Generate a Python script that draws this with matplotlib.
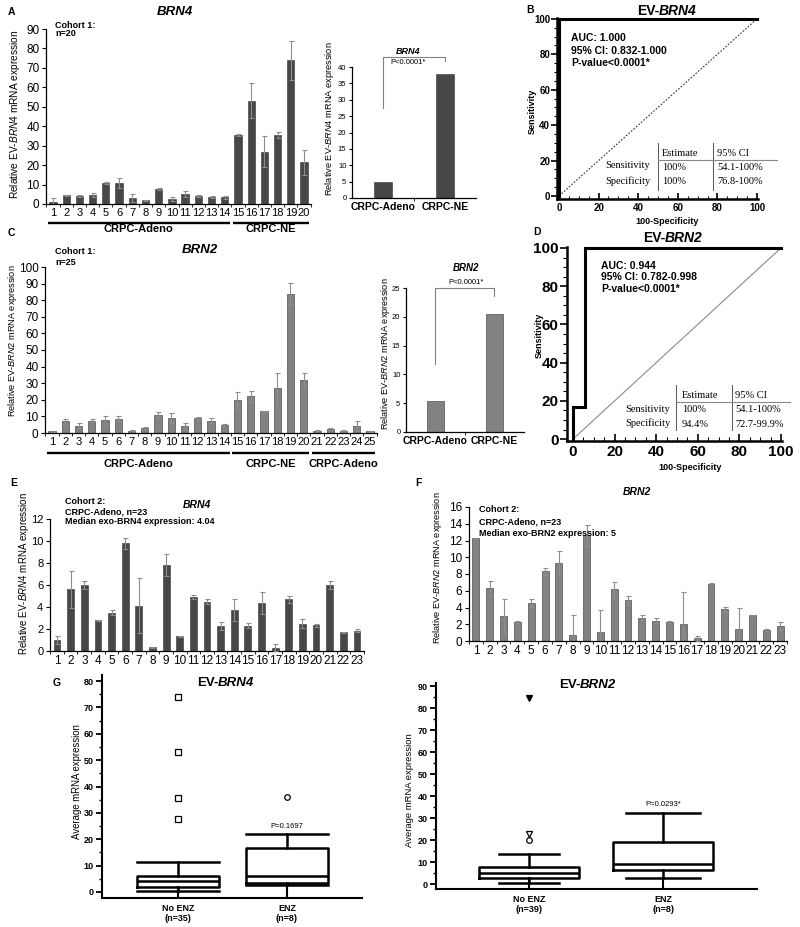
import matplotlib

matplotlib.use("Agg")

import matplotlib.pyplot as plt
import numpy as np
from matplotlib.lines import Line2D
from matplotlib.ticker import MultipleLocator

plt.rcParams["font.family"] = ["Liberation Sans", "DejaVu Sans"]
plt.rcParams["mathtext.fontset"] = "custom"
plt.rcParams["mathtext.rm"] = "Liberation Sans"
plt.rcParams["mathtext.it"] = "Liberation Sans:italic"
plt.rcParams["mathtext.bf"] = "Liberation Sans:bold"
plt.rcParams["axes.linewidth"] = 0.9

W, H = 800, 927
DARK = "#474747"
GREY = "#828282"
ERR = "#8e8e8e"
SERIF = "Liberation Serif"

# -- data -------------------------------------------------------------------
# A: cohort 1, EV-BRN4 per patient (mean, error)
A_VALUES = [1, 4.5, 4, 4.5, 11, 10.8, 3, 2, 7.5, 2.5, 5, 4, 3.5, 3.5,
            35.5, 53, 27, 35.5, 74, 21.5]
A_ERRORS = [2, 0.2, 0.6, 1, 0.5, 2.5, 2, 0.2, 0.5, 1, 1.5, 0.5, 0.5, 0.7,
            0.3, 9, 8, 1.5, 10, 6.5]
A_GROUPS = [("CRPC-Adeno", 1, 14), ("CRPC-NE", 15, 20)]
SUBTYPES = ["CRPC-Adeno", "CRPC-NE"]
A_MEANS = [5.0, 38.0]

# C: cohort 1, EV-BRN2 per patient
C_VALUES = [1, 7, 4.5, 7.5, 8, 8.5, 1.5, 3, 11, 9, 4, 9, 7.5, 5,
            20, 22, 13, 27, 84, 32, 1.5, 2.5, 1.5, 4, 1]
C_ERRORS = [0.5, 1.5, 1.5, 1, 2.5, 1.5, 0.5, 0.5, 1.5, 3, 2, 0.5, 1.5, 0.5,
            5, 3.5, 0.5, 9, 6.5, 4, 0.5, 0.5, 0.5, 3, 0.5]
C_GROUPS = [("CRPC-Adeno", 1, 14), ("CRPC-NE", 15, 20), ("CRPC-Adeno", 21, 25)]
C_MEANS = [5.4, 20.5]

# E / F: cohort 2, CRPC-Adeno
E_VALUES = [1.0, 5.6, 6.0, 2.8, 3.5, 9.8, 4.1, 0.35, 7.8, 1.35, 4.9, 4.5,
            2.3, 3.7, 2.3, 4.4, 0.3, 4.7, 2.5, 2.35, 6.0, 1.7, 1.85]
E_ERRORS = [0.4, 1.7, 0.4, 0.05, 0.2, 0.5, 2.5, 0.05, 1.0, 0.05, 0.2, 0.2,
            0.35, 1.0, 0.25, 1.0, 0.3, 0.3, 0.4, 0.15, 0.35, 0.05, 0.15]
F_VALUES = [12.3, 6.35, 2.95, 2.25, 4.55, 8.3, 9.3, 0.7, 12.6, 1.05, 6.2, 4.85,
            2.8, 2.4, 2.25, 2.0, 0.3, 6.8, 3.8, 1.4, 3.05, 1.3, 1.8]
F_ERRORS = [0.05, 0.85, 2.05, 0.15, 0.45, 0.45, 1.4, 2.4, 1.2, 2.6, 0.85, 0.55,
            0.35, 0.3, 0.1, 3.8, 0.25, 0.1, 0.3, 2.55, 0.05, 0.1, 0.5]

# ROC curves: x = 100-specificity, y = sensitivity
B_ROC_X = [0, 0, 100]
B_ROC_Y = [0, 100, 100]
D_ROC_X = [0, 0, 5.6, 5.6, 100]
D_ROC_Y = [0, 16.7, 16.7, 100, 100]
B_STATS = ["AUC: 1.000", "95% CI: 0.832-1.000", "P-value<0.0001*"]
D_STATS = ["AUC: 0.944", "95% CI: 0.782-0.998", "P-value<0.0001*"]
B_TABLE = [("Sensitivity", "100%", "54.1-100%"), ("Specificity", "100%", "76.8-100%")]
D_TABLE = [("Sensitivity", "100%", "54.1-100%"), ("Specificity", "94.4%", "72.7-99.9%")]

# G: box plots, No ENZ vs ENZ
G_LABELS = ["No ENZ\n(n=35)", "ENZ\n(n=8)"]
H_LABELS = ["No ENZ\n(n=39)", "ENZ\n(n=8)"]
G_BOXES = [dict(whislo=0.2, q1=2.0, med=4.3, q3=6.0, whishi=11.3),
           dict(whislo=2.6, q1=3.5, med=6.0, q3=16.5, whishi=22.0)]
H_BOXES = [dict(whislo=0.5, q1=2.6, med=5.0, q3=7.6, whishi=13.8),
           dict(whislo=2.6, q1=6.2, med=9.2, q3=19.1, whishi=32.1)]
# (group, value, marker, filled)
G_OUTLIERS = [(1, 27.5, "s", False), (1, 35.8, "s", False), (1, 53.0, "s", False),
              (1, 74.0, "s", False), (2, 36.0, "o", False)]
H_OUTLIERS = [(1, 84.5, "v", True), (1, 22.6, "v", False), (1, 20.0, "o", False)]

fig = plt.figure(figsize=(W / 100, H / 100), dpi=100, facecolor="white")


def px_axes(left, top, right, bottom):
    return fig.add_axes([left / W, 1 - bottom / H, (right - left) / W, (bottom - top) / H])


def ftext(x, y, s, **kw):
    kw.setdefault("va", "center")
    return fig.text(x / W, 1 - y / H, s, **kw)


def fline(xs, ys, **kw):
    kw.setdefault("color", "black")
    fig.add_artist(Line2D([x / W for x in xs], [1 - y / H for y in ys],
                          transform=fig.transFigure, **kw))


def ev_title(x, y, gene, size):
    ftext(x, y, "EV-", ha="right", fontsize=size, fontweight="bold")
    ftext(x, y, gene, ha="left", fontsize=size, fontweight="bold", style="italic")


def ylabel(x, y, gene, size):
    ftext(x, y, r"Relative EV-$\it{" + gene + r"}$ mRNA expression", ha="center",
          rotation=90, fontsize=size)


def bar_panel(ax, values, errors, color, ymax, ystep, width, xsize, ysize):
    pos = np.arange(1, len(values) + 1)
    ax.bar(pos, values, width=width, color=color, edgecolor="#333333", linewidth=0.4, zorder=2)
    ax.errorbar(pos, values, yerr=errors, fmt="none", ecolor=ERR, elinewidth=0.8,
                capsize=1.8, capthick=0.8, zorder=3)
    ax.set_xlim(0.5, len(values) + 0.5)
    ax.set_ylim(0, ymax)
    ax.set_yticks(np.arange(0, ymax + 0.01, ystep))
    ax.set_xticks(pos)
    ax.set_xticks(np.arange(0.5, len(values) + 1), minor=True)
    ax.tick_params(axis="x", which="major", length=0, pad=3, labelsize=xsize)
    ax.tick_params(axis="x", which="minor", length=2.5)
    ax.tick_params(axis="y", length=3, labelsize=ysize, pad=2)
    for s in ("top", "right"):
        ax.spines[s].set_visible(False)


def group_lines(ax, box, groups, line_px, text_px):
    tr = ax.get_xaxis_transform()
    frac = lambda y: (box[3] - y) / (box[3] - box[1])
    for name, first, last in groups:
        ax.plot([first - 0.4, last + 0.4], [frac(line_px)] * 2, transform=tr, color="black",
                lw=1.7, clip_on=False, solid_capstyle="butt")
        ax.text((first + last) / 2, frac(text_px), name, transform=tr, ha="center",
                va="center", fontsize=8, fontweight="bold")


def summary_panel(ax, means, color, ymax, ystep, bracket):
    ax.bar([0, 1], means, width=0.3, color=color, edgecolor="#333333", linewidth=0.4)
    ax.set_xlim(-0.5, 1.5)
    ax.set_ylim(0, ymax)
    ax.set_yticks(np.arange(0, ymax + 0.01, ystep))
    ax.set_xticks([0, 1], SUBTYPES, fontweight="bold", fontsize=7.5)
    ax.set_xticks([0.5], minor=True)
    ax.tick_params(axis="x", which="major", length=0, pad=3)
    ax.tick_params(axis="x", which="minor", length=2.5)
    ax.tick_params(axis="y", length=2.5, labelsize=5.5, pad=1.5)
    for s in ("top", "right"):
        ax.spines[s].set_visible(False)
    low, top, drop = bracket
    ax.plot([0, 0, 1, 1], [low, top, top, top - drop], color=GREY, lw=0.8, clip_on=False)


def roc_panel(ax, xs, ys, diag, xlim, ylim, size, major_len):
    ax.plot([0, 100], [0, 100], **diag)
    ax.plot(xs, ys, color="black", lw=2.2, solid_joinstyle="miter", clip_on=False, zorder=3)
    ax.set_xlim(*xlim)
    ax.set_ylim(*ylim)
    for axis in (ax.xaxis, ax.yaxis):
        axis.set_major_locator(MultipleLocator(20))
        axis.set_minor_locator(MultipleLocator(5))
    ax.tick_params(axis="y", which="major", direction="out", length=major_len, width=1.2,
                   labelsize=size, pad=1)
    ax.tick_params(axis="y", which="minor", direction="out", length=major_len * 0.6, width=0.8)
    ax.tick_params(axis="x", which="major", direction="in", length=major_len, width=1.2,
                   labelsize=size, pad=3)
    ax.tick_params(axis="x", which="minor", direction="in", length=major_len * 0.6, width=0.8)
    for lab in ax.get_xticklabels() + ax.get_yticklabels():
        lab.set_fontweight("bold")
    for s in ("top", "right"):
        ax.spines[s].set_visible(False)
    for s in ("left", "bottom"):
        ax.spines[s].set_linewidth(1.8)


def roc_table(rows, x_row, x_est, x_ci, x_rule1, x_rule2, x_end, y_head, y_rule, y_rows,
              y_top, y_bottom):
    kw = dict(fontfamily=SERIF, fontsize=7.5)
    ftext(x_est, y_head, "Estimate", ha="left", **kw)
    ftext(x_ci, y_head, "95% CI", ha="left", **kw)
    for (name, est, ci), y in zip(rows, y_rows):
        ftext(x_row, y, name, ha="right", **kw)
        ftext(x_est, y + 1, est, ha="left", **kw)
        ftext(x_ci, y + 1, ci, ha="left", **kw)
    fline([x_rule1, x_rule1], [y_top, y_bottom], lw=0.7, color="#555555")
    fline([x_rule2, x_rule2], [y_top, y_bottom], lw=0.7, color="#555555")
    fline([x_rule1, x_end], [y_rule, y_rule], lw=0.8, color="#888888")


def box_panel(ax, boxes, labels, outliers, caps, xlim, ylim, ymax):
    stats = [dict(b, fliers=[]) for b in boxes]
    line = dict(color="black", lw=1.8)
    ax.bxp(stats, positions=[1, 2], widths=0.75, capwidths=caps, showfliers=False,
           boxprops=line, whiskerprops=line, capprops=line,
           medianprops=dict(color="black", lw=1.8))
    for grp, val, marker, filled in outliers:
        ax.plot(grp, val, marker=marker, ms=4, mew=0.9, mec="black",
                mfc="black" if filled else "white", ls="none")
    ax.set_xlim(*xlim)
    ax.set_ylim(*ylim)
    ax.set_yticks(np.arange(0, ymax + 0.01, 10))
    ax.yaxis.set_minor_locator(MultipleLocator(5))
    ax.set_xticks([1, 2], labels, fontweight="bold", fontsize=6.5)
    ax.tick_params(axis="x", direction="in", length=9, width=1.5, pad=4)
    ax.tick_params(axis="y", which="major", length=4, width=1.3, labelsize=6.5, pad=2)
    ax.tick_params(axis="y", which="minor", length=2.5, width=1.0)
    for lab in ax.get_yticklabels():
        lab.set_fontweight("bold")
    for s in ("top", "right"):
        ax.spines[s].set_visible(False)
    for s in ("left", "bottom"):
        ax.spines[s].set_linewidth(1.5)
    ax.set_ylim(*ylim)


# -- A ----------------------------------------------------------------------
box_a = (46.4, 29, 310.6, 204)
ax = px_axes(*box_a)
bar_panel(ax, A_VALUES, A_ERRORS, DARK, 90, 10, 0.55, 8, 8.5)
group_lines(ax, box_a, A_GROUPS, 223, 229)
ftext(8, 12, "A", fontsize=7.5, fontweight="bold")
ftext(175, 12, "BRN4", ha="center", fontsize=9.5, fontweight="bold", style="italic")
ftext(55, 26, "Cohort 1:", fontsize=6.5, fontweight="bold")
ftext(55, 34, "n=20", fontsize=6.5, fontweight="bold")
ylabel(15, 114, "BRN4", 7.3)

ax = px_axes(352, 67, 476, 198)
summary_panel(ax, A_MEANS, DARK, 40, 5, (27.5, 43.0, 1.2))
ftext(408, 52, "BRN4", ha="center", fontsize=6.5, fontweight="bold", style="italic")
ftext(408, 62, "P<0.0001*", ha="center", fontsize=5.5)
ylabel(330, 119, "BRN4", 6.7)

# -- B ----------------------------------------------------------------------
ax = px_axes(557, 18, 758, 199)
roc_panel(ax, B_ROC_X, B_ROC_Y, dict(color="#333333", lw=0.8, ls=(0, (1.5, 1.5))),
          (-1, 100.5), (-1.7, 100.5), 7, 4)
ftext(526, 10, "B", fontsize=7.5, fontweight="bold")
ev_title(659, 11, "BRN4", 10)
for i, s in enumerate(B_STATS):
    ftext(571, 38 + 12.5 * i, s, fontsize=7.5, fontweight="bold")
ftext(532, 111, "Sensitivity", ha="center", rotation=90, fontsize=6.5, fontweight="bold")
ftext(667, 221, "100-Specificity", ha="center", fontsize=6.5, fontweight="bold")
roc_table(B_TABLE, 650, 662, 717, 658, 713, 777, 153, 160, (166, 181), 143, 190)

# -- C ----------------------------------------------------------------------
box_c = (45.4, 267, 376.6, 433)
ax = px_axes(*box_c)
bar_panel(ax, C_VALUES, C_ERRORS, GREY, 100, 10, 0.55, 8, 8.5)
group_lines(ax, box_c, C_GROUPS, 453, 464)
ftext(8, 233, "C", fontsize=7.5, fontweight="bold")
ftext(200, 250, "BRN2", ha="center", fontsize=9.5, fontweight="bold", style="italic")
ftext(55, 252, "Cohort 1:", fontsize=6.5, fontweight="bold")
ftext(55, 263, "n=25", fontsize=6.5, fontweight="bold")
ylabel(13, 341, "BRN2", 6.6)

ax = px_axes(406, 288, 524, 432)
summary_panel(ax, C_MEANS, GREY, 25, 5, (11.8, 25.0, 1.4))
ftext(466, 268, "BRN2", ha="center", fontsize=7, fontweight="bold", style="italic")
ftext(466, 282, "P<0.0001*", ha="center", fontsize=5.5)
ylabel(386, 354, "BRN2", 6.6)

# -- D ----------------------------------------------------------------------
ax = px_axes(567, 247, 782, 441)
roc_panel(ax, D_ROC_X, D_ROC_Y, dict(color="#8a8a8a", lw=0.8),
          (-2.9, 100.5), (-1, 100.5), 11, 5)
ftext(533, 232, "D", fontsize=7.5, fontweight="bold")
ev_title(665, 238, "BRN2", 10)
for i, s in enumerate(D_STATS):
    ftext(601, 266 + 11.5 * i, s, fontsize=7.5, fontweight="bold")
ftext(539, 335, "Sensitivity", ha="center", rotation=90, fontsize=6.5, fontweight="bold")
ftext(690, 468, "100-Specificity", ha="center", fontsize=6.5, fontweight="bold")
roc_table(D_TABLE, 670, 682, 735, 676, 732, 790, 396, 402, (409, 423), 385, 430)

# -- E ----------------------------------------------------------------------
ax = px_axes(50.2, 519, 363.8, 651)
bar_panel(ax, E_VALUES, E_ERRORS, DARK, 12, 2, 0.5, 8.5, 8)
ftext(10, 483, "E", fontsize=7.5, fontweight="bold")
ftext(197, 505, "BRN4", ha="center", fontsize=7.5, fontweight="bold", style="italic")
for i, s in enumerate(["Cohort 2:", "CRPC-Adeno, n=23", "Median exo-BRN4 expression: 4.04"]):
    ftext(65, 501 + 10.5 * i, s, fontsize=6.5, fontweight="bold")
ylabel(24, 574, "BRN4", 7.0)

# -- F ----------------------------------------------------------------------
ax = px_axes(469, 507, 787, 641)
bar_panel(ax, F_VALUES, F_ERRORS, GREY, 16, 2, 0.5, 8.5, 8.5)
ftext(415, 483, "F", fontsize=7.5, fontweight="bold")
ftext(637, 492, "BRN2", ha="center", fontsize=7.5, fontweight="bold", style="italic")
for i, s in enumerate(["Cohort 2:", "CRPC-Adeno, n=23", "Median exo-BRN2 expression: 5"]):
    ftext(479, 510 + 12 * i, s, fontsize=6.5, fontweight="bold")
ylabel(437, 568, "BRN2", 6.6)

# -- G ----------------------------------------------------------------------
ax = px_axes(102, 675, 362, 898)
box_panel(ax, G_BOXES, G_LABELS, G_OUTLIERS, [0.75, 0.75], (0.30, 2.69), (-2.3, 82.3), 80)
ftext(53, 683, "G", fontsize=7.5, fontweight="bold")
ev_title(218, 683, "BRN4", 9.5)
ftext(287, 827, "P=0.1697", ha="center", fontsize=5.5)
ftext(77, 782, "Average mRNA expression", ha="center", rotation=90, fontsize=6.9)

ax = px_axes(436, 683, 757, 889)
box_panel(ax, H_BOXES, H_LABELS, H_OUTLIERS, [0.45, 0.55], (0.306, 2.70), (-2.27, 91.4), 90)
ev_title(580, 685, "BRN2", 9.5)
ftext(663, 805, "P=0.0293*", ha="center", fontsize=5.5)
ftext(410, 790, "Average mRNA expression", ha="center", rotation=90, fontsize=6.8)

fig.savefig("out.png", dpi=100, facecolor="white")
